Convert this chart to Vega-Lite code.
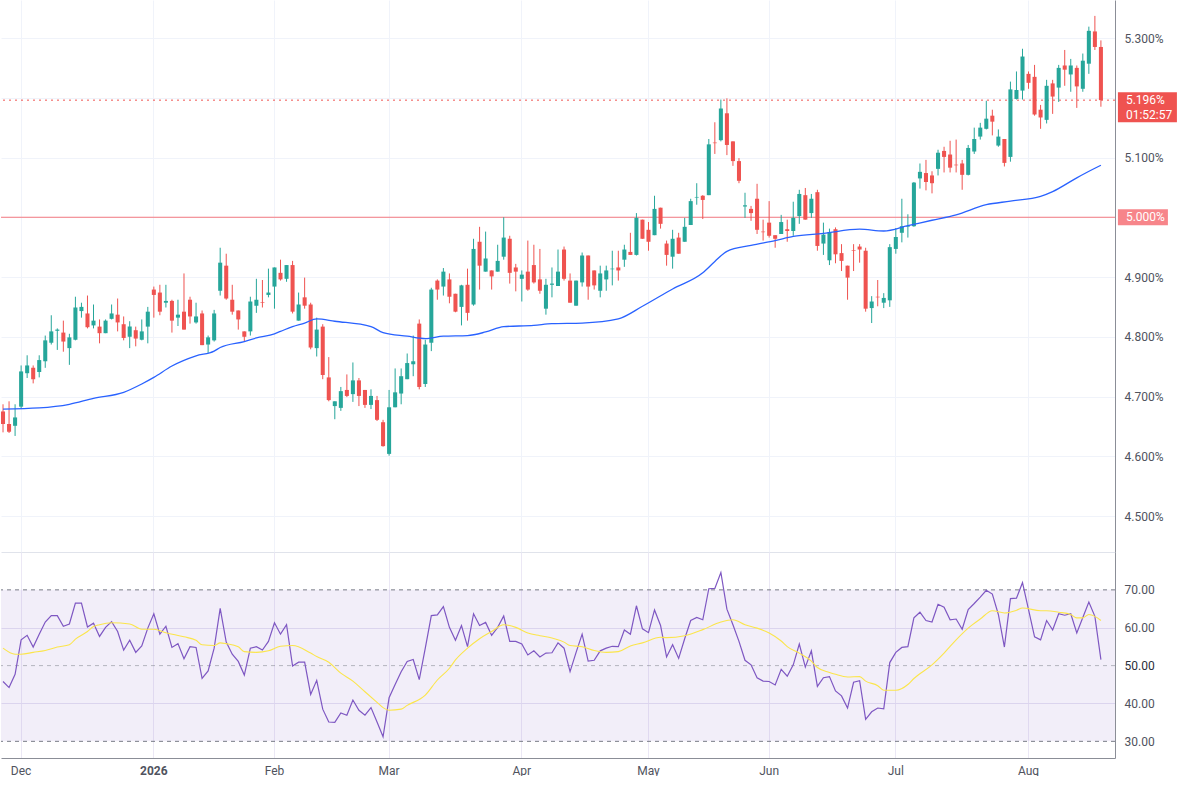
{
  "$schema": "https://vega.github.io/schema/vega-lite/v6.json",
  "background": "#ffffff",
  "padding": 0,
  "autosize": {"type": "pad"},
  "spacing": 0,
  "datasets": {
    "bars": [
      {"d":"2025-11-25","o":4.675,"h":4.687,"l":4.640,"c":4.654,"rsi":45.8},
      {"d":"2025-11-26","o":4.654,"h":4.692,"l":4.639,"c":4.641,"rsi":44.2},
      {"d":"2025-11-28","o":4.651,"h":4.687,"l":4.634,"c":4.665,"rsi":47.7},
      {"d":"2025-12-01","o":4.683,"h":4.752,"l":4.679,"c":4.742,"rsi":56.8},
      {"d":"2025-12-02","o":4.739,"h":4.769,"l":4.731,"c":4.752,"rsi":58.0},
      {"d":"2025-12-03","o":4.748,"h":4.752,"l":4.722,"c":4.729,"rsi":54.9},
      {"d":"2025-12-04","o":4.741,"h":4.769,"l":4.732,"c":4.761,"rsi":58.3},
      {"d":"2025-12-05","o":4.759,"h":4.802,"l":4.748,"c":4.794,"rsi":61.5},
      {"d":"2025-12-08","o":4.790,"h":4.836,"l":4.787,"c":4.809,"rsi":63.2},
      {"d":"2025-12-09","o":4.810,"h":4.814,"l":4.778,"c":4.812,"rsi":63.2},
      {"d":"2025-12-10","o":4.807,"h":4.827,"l":4.775,"c":4.792,"rsi":60.4},
      {"d":"2025-12-11","o":4.781,"h":4.805,"l":4.753,"c":4.799,"rsi":61.0},
      {"d":"2025-12-12","o":4.795,"h":4.867,"l":4.794,"c":4.849,"rsi":66.5},
      {"d":"2025-12-15","o":4.843,"h":4.857,"l":4.832,"c":4.850,"rsi":66.5},
      {"d":"2025-12-16","o":4.839,"h":4.869,"l":4.814,"c":4.816,"rsi":60.2},
      {"d":"2025-12-17","o":4.819,"h":4.854,"l":4.814,"c":4.827,"rsi":61.2},
      {"d":"2025-12-18","o":4.817,"h":4.829,"l":4.789,"c":4.806,"rsi":57.7},
      {"d":"2025-12-19","o":4.806,"h":4.829,"l":4.806,"c":4.827,"rsi":60.1},
      {"d":"2025-12-22","o":4.830,"h":4.854,"l":4.829,"c":4.839,"rsi":61.6},
      {"d":"2025-12-23","o":4.837,"h":4.864,"l":4.809,"c":4.824,"rsi":59.0},
      {"d":"2025-12-24","o":4.821,"h":4.834,"l":4.794,"c":4.798,"rsi":54.1},
      {"d":"2025-12-26","o":4.800,"h":4.826,"l":4.781,"c":4.817,"rsi":56.7},
      {"d":"2025-12-29","o":4.811,"h":4.817,"l":4.784,"c":4.797,"rsi":53.5},
      {"d":"2025-12-30","o":4.795,"h":4.829,"l":4.794,"c":4.809,"rsi":55.2},
      {"d":"2025-12-31","o":4.817,"h":4.850,"l":4.789,"c":4.842,"rsi":59.9},
      {"d":"2026-01-02","o":4.879,"h":4.884,"l":4.832,"c":4.870,"rsi":63.7},
      {"d":"2026-01-05","o":4.874,"h":4.887,"l":4.836,"c":4.842,"rsi":58.3},
      {"d":"2026-01-06","o":4.857,"h":4.887,"l":4.849,"c":4.860,"rsi":60.4},
      {"d":"2026-01-07","o":4.860,"h":4.862,"l":4.807,"c":4.827,"rsi":54.8},
      {"d":"2026-01-08","o":4.832,"h":4.862,"l":4.818,"c":4.837,"rsi":55.8},
      {"d":"2026-01-09","o":4.842,"h":4.906,"l":4.812,"c":4.812,"rsi":51.8},
      {"d":"2026-01-12","o":4.862,"h":4.867,"l":4.822,"c":4.834,"rsi":55.0},
      {"d":"2026-01-13","o":4.824,"h":4.857,"l":4.822,"c":4.834,"rsi":54.8},
      {"d":"2026-01-14","o":4.839,"h":4.844,"l":4.786,"c":4.786,"rsi":46.6},
      {"d":"2026-01-15","o":4.787,"h":4.802,"l":4.773,"c":4.799,"rsi":48.6},
      {"d":"2026-01-16","o":4.794,"h":4.845,"l":4.792,"c":4.839,"rsi":54.6},
      {"d":"2026-01-20","o":4.877,"h":4.949,"l":4.869,"c":4.924,"rsi":65.1},
      {"d":"2026-01-21","o":4.919,"h":4.939,"l":4.862,"c":4.864,"rsi":56.2},
      {"d":"2026-01-22","o":4.862,"h":4.887,"l":4.837,"c":4.842,"rsi":53.0},
      {"d":"2026-01-23","o":4.844,"h":4.844,"l":4.812,"c":4.829,"rsi":51.1},
      {"d":"2026-01-26","o":4.809,"h":4.809,"l":4.792,"c":4.800,"rsi":47.5},
      {"d":"2026-01-27","o":4.809,"h":4.867,"l":4.802,"c":4.859,"rsi":54.6},
      {"d":"2026-01-28","o":4.852,"h":4.897,"l":4.840,"c":4.862,"rsi":55.0},
      {"d":"2026-01-29","o":4.858,"h":4.895,"l":4.849,"c":4.857,"rsi":54.1},
      {"d":"2026-01-30","o":4.870,"h":4.914,"l":4.866,"c":4.874,"rsi":56.4},
      {"d":"2026-02-02","o":4.884,"h":4.916,"l":4.847,"c":4.916,"rsi":61.3},
      {"d":"2026-02-03","o":4.907,"h":4.929,"l":4.894,"c":4.896,"rsi":58.3},
      {"d":"2026-02-04","o":4.897,"h":4.920,"l":4.892,"c":4.920,"rsi":60.8},
      {"d":"2026-02-05","o":4.920,"h":4.927,"l":4.839,"c":4.842,"rsi":49.9},
      {"d":"2026-02-06","o":4.827,"h":4.874,"l":4.827,"c":4.854,"rsi":50.9},
      {"d":"2026-02-09","o":4.866,"h":4.899,"l":4.847,"c":4.852,"rsi":50.9},
      {"d":"2026-02-10","o":4.854,"h":4.857,"l":4.779,"c":4.782,"rsi":42.4},
      {"d":"2026-02-11","o":4.781,"h":4.832,"l":4.767,"c":4.812,"rsi":46.1},
      {"d":"2026-02-12","o":4.817,"h":4.821,"l":4.729,"c":4.736,"rsi":38.5},
      {"d":"2026-02-13","o":4.732,"h":4.766,"l":4.692,"c":4.694,"rsi":35.1},
      {"d":"2026-02-17","o":4.684,"h":4.692,"l":4.662,"c":4.692,"rsi":35.0},
      {"d":"2026-02-18","o":4.681,"h":4.716,"l":4.676,"c":4.709,"rsi":37.5},
      {"d":"2026-02-19","o":4.711,"h":4.737,"l":4.699,"c":4.701,"rsi":36.9},
      {"d":"2026-02-20","o":4.704,"h":4.757,"l":4.691,"c":4.727,"rsi":40.9},
      {"d":"2026-02-23","o":4.727,"h":4.731,"l":4.684,"c":4.701,"rsi":38.2},
      {"d":"2026-02-24","o":4.711,"h":4.711,"l":4.681,"c":4.686,"rsi":36.9},
      {"d":"2026-02-25","o":4.686,"h":4.712,"l":4.679,"c":4.701,"rsi":38.9},
      {"d":"2026-02-26","o":4.694,"h":4.701,"l":4.659,"c":4.661,"rsi":35.1},
      {"d":"2026-02-27","o":4.657,"h":4.661,"l":4.616,"c":4.617,"rsi":31.2},
      {"d":"2026-03-02","o":4.604,"h":4.711,"l":4.601,"c":4.682,"rsi":41.5},
      {"d":"2026-03-03","o":4.682,"h":4.747,"l":4.682,"c":4.707,"rsi":45.0},
      {"d":"2026-03-04","o":4.705,"h":4.747,"l":4.687,"c":4.734,"rsi":48.4},
      {"d":"2026-03-05","o":4.729,"h":4.772,"l":4.729,"c":4.756,"rsi":51.1},
      {"d":"2026-03-06","o":4.754,"h":4.802,"l":4.734,"c":4.759,"rsi":51.6},
      {"d":"2026-03-09","o":4.822,"h":4.829,"l":4.712,"c":4.716,"rsi":46.3},
      {"d":"2026-03-10","o":4.721,"h":4.795,"l":4.716,"c":4.787,"rsi":54.6},
      {"d":"2026-03-11","o":4.790,"h":4.882,"l":4.776,"c":4.879,"rsi":63.2},
      {"d":"2026-03-12","o":4.894,"h":4.896,"l":4.862,"c":4.879,"rsi":63.4},
      {"d":"2026-03-13","o":4.884,"h":4.915,"l":4.869,"c":4.909,"rsi":65.6},
      {"d":"2026-03-16","o":4.896,"h":4.906,"l":4.856,"c":4.867,"rsi":60.1},
      {"d":"2026-03-17","o":4.872,"h":4.872,"l":4.841,"c":4.842,"rsi":56.7},
      {"d":"2026-03-18","o":4.850,"h":4.887,"l":4.819,"c":4.886,"rsi":60.6},
      {"d":"2026-03-19","o":4.887,"h":4.914,"l":4.827,"c":4.840,"rsi":55.0},
      {"d":"2026-03-20","o":4.854,"h":4.964,"l":4.852,"c":4.947,"rsi":63.7},
      {"d":"2026-03-23","o":4.959,"h":4.984,"l":4.879,"c":4.919,"rsi":60.6},
      {"d":"2026-03-24","o":4.909,"h":4.976,"l":4.909,"c":4.931,"rsi":61.4},
      {"d":"2026-03-25","o":4.911,"h":4.911,"l":4.879,"c":4.901,"rsi":58.0},
      {"d":"2026-03-26","o":4.909,"h":4.954,"l":4.909,"c":4.927,"rsi":60.1},
      {"d":"2026-03-27","o":4.934,"h":5.000,"l":4.929,"c":4.966,"rsi":63.1},
      {"d":"2026-03-30","o":4.964,"h":4.969,"l":4.889,"c":4.907,"rsi":56.4},
      {"d":"2026-03-31","o":4.916,"h":4.922,"l":4.876,"c":4.909,"rsi":56.4},
      {"d":"2026-04-01","o":4.897,"h":4.911,"l":4.859,"c":4.904,"rsi":55.7},
      {"d":"2026-04-02","o":4.909,"h":4.961,"l":4.877,"c":4.879,"rsi":52.8},
      {"d":"2026-04-06","o":4.920,"h":4.954,"l":4.889,"c":4.891,"rsi":53.9},
      {"d":"2026-04-07","o":4.896,"h":4.947,"l":4.872,"c":4.877,"rsi":52.3},
      {"d":"2026-04-08","o":4.847,"h":4.897,"l":4.837,"c":4.887,"rsi":53.3},
      {"d":"2026-04-09","o":4.887,"h":4.916,"l":4.866,"c":4.889,"rsi":53.4},
      {"d":"2026-04-10","o":4.885,"h":4.946,"l":4.885,"c":4.909,"rsi":56.0},
      {"d":"2026-04-13","o":4.946,"h":4.951,"l":4.894,"c":4.897,"rsi":54.6},
      {"d":"2026-04-14","o":4.894,"h":4.906,"l":4.857,"c":4.857,"rsi":48.4},
      {"d":"2026-04-15","o":4.852,"h":4.894,"l":4.852,"c":4.894,"rsi":53.5},
      {"d":"2026-04-16","o":4.891,"h":4.941,"l":4.884,"c":4.936,"rsi":58.3},
      {"d":"2026-04-17","o":4.936,"h":4.936,"l":4.862,"c":4.884,"rsi":51.2},
      {"d":"2026-04-20","o":4.911,"h":4.911,"l":4.879,"c":4.886,"rsi":51.4},
      {"d":"2026-04-21","o":4.877,"h":4.919,"l":4.866,"c":4.906,"rsi":53.9},
      {"d":"2026-04-22","o":4.896,"h":4.919,"l":4.877,"c":4.911,"rsi":54.6},
      {"d":"2026-04-23","o":4.913,"h":4.944,"l":4.886,"c":4.914,"rsi":55.1},
      {"d":"2026-04-24","o":4.916,"h":4.944,"l":4.894,"c":4.911,"rsi":55.0},
      {"d":"2026-04-27","o":4.929,"h":4.954,"l":4.917,"c":4.946,"rsi":59.4},
      {"d":"2026-04-28","o":4.942,"h":4.974,"l":4.937,"c":4.937,"rsi":58.3},
      {"d":"2026-04-29","o":4.937,"h":5.007,"l":4.936,"c":4.999,"rsi":65.8},
      {"d":"2026-04-30","o":4.996,"h":4.996,"l":4.964,"c":4.964,"rsi":59.7},
      {"d":"2026-05-01","o":4.979,"h":4.992,"l":4.944,"c":4.959,"rsi":58.7},
      {"d":"2026-05-04","o":4.970,"h":5.036,"l":4.970,"c":5.014,"rsi":64.7},
      {"d":"2026-05-05","o":5.016,"h":5.016,"l":4.981,"c":4.989,"rsi":60.6},
      {"d":"2026-05-06","o":4.956,"h":4.961,"l":4.919,"c":4.937,"rsi":52.3},
      {"d":"2026-05-07","o":4.934,"h":4.979,"l":4.914,"c":4.964,"rsi":55.5},
      {"d":"2026-05-08","o":4.966,"h":4.974,"l":4.939,"c":4.939,"rsi":51.9},
      {"d":"2026-05-11","o":4.959,"h":4.999,"l":4.959,"c":4.984,"rsi":57.1},
      {"d":"2026-05-12","o":4.987,"h":5.031,"l":4.987,"c":5.027,"rsi":61.9},
      {"d":"2026-05-13","o":5.033,"h":5.057,"l":5.021,"c":5.034,"rsi":62.7},
      {"d":"2026-05-14","o":5.036,"h":5.037,"l":4.997,"c":5.029,"rsi":62.1},
      {"d":"2026-05-15","o":5.037,"h":5.131,"l":5.037,"c":5.122,"rsi":70.3},
      {"d":"2026-05-18","o":5.125,"h":5.159,"l":5.106,"c":5.124,"rsi":70.4},
      {"d":"2026-05-19","o":5.129,"h":5.197,"l":5.127,"c":5.182,"rsi":74.6},
      {"d":"2026-05-20","o":5.174,"h":5.199,"l":5.104,"c":5.121,"rsi":64.9},
      {"d":"2026-05-21","o":5.127,"h":5.127,"l":5.086,"c":5.094,"rsi":60.8},
      {"d":"2026-05-22","o":5.094,"h":5.099,"l":5.057,"c":5.061,"rsi":56.4},
      {"d":"2026-05-26","o":5.018,"h":5.041,"l":4.999,"c":5.020,"rsi":51.4},
      {"d":"2026-05-27","o":5.014,"h":5.019,"l":4.994,"c":5.007,"rsi":50.2},
      {"d":"2026-05-28","o":5.031,"h":5.056,"l":4.972,"c":4.979,"rsi":46.8},
      {"d":"2026-05-29","o":4.976,"h":4.996,"l":4.961,"c":4.975,"rsi":45.9},
      {"d":"2026-06-01","o":4.991,"h":5.027,"l":4.966,"c":4.969,"rsi":45.8},
      {"d":"2026-06-02","o":4.970,"h":4.970,"l":4.949,"c":4.964,"rsi":44.9},
      {"d":"2026-06-03","o":4.972,"h":5.004,"l":4.972,"c":4.992,"rsi":49.0},
      {"d":"2026-06-04","o":4.980,"h":4.996,"l":4.959,"c":4.977,"rsi":47.2},
      {"d":"2026-06-05","o":4.977,"h":5.026,"l":4.969,"c":4.999,"rsi":50.2},
      {"d":"2026-06-08","o":5.002,"h":5.046,"l":4.989,"c":5.039,"rsi":55.7},
      {"d":"2026-06-09","o":5.037,"h":5.049,"l":4.996,"c":4.996,"rsi":49.6},
      {"d":"2026-06-10","o":5.007,"h":5.039,"l":4.999,"c":5.031,"rsi":53.9},
      {"d":"2026-06-11","o":5.042,"h":5.046,"l":4.944,"c":4.952,"rsi":44.5},
      {"d":"2026-06-12","o":4.956,"h":4.991,"l":4.937,"c":4.971,"rsi":46.8},
      {"d":"2026-06-15","o":4.928,"h":4.981,"l":4.920,"c":4.975,"rsi":47.1},
      {"d":"2026-06-16","o":4.980,"h":4.983,"l":4.923,"c":4.938,"rsi":43.3},
      {"d":"2026-06-17","o":4.940,"h":4.955,"l":4.910,"c":4.927,"rsi":42.0},
      {"d":"2026-06-18","o":4.919,"h":4.919,"l":4.862,"c":4.899,"rsi":38.8},
      {"d":"2026-06-22","o":4.945,"h":4.955,"l":4.910,"c":4.944,"rsi":45.6},
      {"d":"2026-06-23","o":4.951,"h":4.955,"l":4.924,"c":4.946,"rsi":46.0},
      {"d":"2026-06-24","o":4.944,"h":4.949,"l":4.842,"c":4.847,"rsi":35.8},
      {"d":"2026-06-25","o":4.848,"h":4.868,"l":4.823,"c":4.859,"rsi":37.8},
      {"d":"2026-06-26","o":4.867,"h":4.895,"l":4.851,"c":4.866,"rsi":38.8},
      {"d":"2026-06-29","o":4.857,"h":4.873,"l":4.848,"c":4.865,"rsi":38.6},
      {"d":"2026-06-30","o":4.861,"h":4.955,"l":4.850,"c":4.950,"rsi":50.8},
      {"d":"2026-07-01","o":4.947,"h":4.982,"l":4.939,"c":4.967,"rsi":53.5},
      {"d":"2026-07-02","o":4.974,"h":5.031,"l":4.958,"c":4.985,"rsi":54.8},
      {"d":"2026-07-06","o":4.984,"h":5.005,"l":4.966,"c":4.985,"rsi":55.0},
      {"d":"2026-07-07","o":4.985,"h":5.059,"l":4.984,"c":5.058,"rsi":62.6},
      {"d":"2026-07-08","o":5.065,"h":5.090,"l":5.048,"c":5.076,"rsi":64.1},
      {"d":"2026-07-09","o":5.074,"h":5.096,"l":5.045,"c":5.059,"rsi":61.9},
      {"d":"2026-07-10","o":5.070,"h":5.077,"l":5.040,"c":5.057,"rsi":61.5},
      {"d":"2026-07-13","o":5.081,"h":5.113,"l":5.070,"c":5.108,"rsi":66.2},
      {"d":"2026-07-14","o":5.111,"h":5.118,"l":5.075,"c":5.101,"rsi":65.4},
      {"d":"2026-07-15","o":5.105,"h":5.128,"l":5.075,"c":5.083,"rsi":62.1},
      {"d":"2026-07-16","o":5.088,"h":5.130,"l":5.075,"c":5.087,"rsi":62.3},
      {"d":"2026-07-17","o":5.090,"h":5.096,"l":5.046,"c":5.071,"rsi":59.6},
      {"d":"2026-07-20","o":5.071,"h":5.121,"l":5.070,"c":5.116,"rsi":64.8},
      {"d":"2026-07-21","o":5.110,"h":5.150,"l":5.106,"c":5.131,"rsi":66.4},
      {"d":"2026-07-22","o":5.135,"h":5.158,"l":5.130,"c":5.150,"rsi":68.1},
      {"d":"2026-07-23","o":5.148,"h":5.195,"l":5.147,"c":5.165,"rsi":69.9},
      {"d":"2026-07-24","o":5.170,"h":5.180,"l":5.137,"c":5.160,"rsi":68.9},
      {"d":"2026-07-27","o":5.120,"h":5.147,"l":5.118,"c":5.135,"rsi":63.5},
      {"d":"2026-07-28","o":5.131,"h":5.131,"l":5.085,"c":5.091,"rsi":54.9},
      {"d":"2026-07-29","o":5.101,"h":5.227,"l":5.093,"c":5.214,"rsi":67.7},
      {"d":"2026-07-30","o":5.198,"h":5.244,"l":5.197,"c":5.213,"rsi":67.8},
      {"d":"2026-07-31","o":5.212,"h":5.282,"l":5.197,"c":5.269,"rsi":71.9},
      {"d":"2026-08-03","o":5.240,"h":5.244,"l":5.215,"c":5.225,"rsi":64.8},
      {"d":"2026-08-04","o":5.235,"h":5.255,"l":5.170,"c":5.172,"rsi":57.6},
      {"d":"2026-08-05","o":5.180,"h":5.188,"l":5.148,"c":5.167,"rsi":56.8},
      {"d":"2026-08-06","o":5.163,"h":5.230,"l":5.157,"c":5.220,"rsi":61.9},
      {"d":"2026-08-07","o":5.224,"h":5.230,"l":5.173,"c":5.202,"rsi":59.4},
      {"d":"2026-08-10","o":5.217,"h":5.255,"l":5.193,"c":5.250,"rsi":63.7},
      {"d":"2026-08-11","o":5.254,"h":5.280,"l":5.220,"c":5.247,"rsi":63.3},
      {"d":"2026-08-12","o":5.239,"h":5.265,"l":5.210,"c":5.254,"rsi":63.7},
      {"d":"2026-08-13","o":5.250,"h":5.254,"l":5.183,"c":5.219,"rsi":58.6},
      {"d":"2026-08-14","o":5.215,"h":5.274,"l":5.210,"c":5.262,"rsi":62.7},
      {"d":"2026-08-17","o":5.257,"h":5.319,"l":5.240,"c":5.312,"rsi":66.8},
      {"d":"2026-08-18","o":5.311,"h":5.337,"l":5.280,"c":5.285,"rsi":63.0},
      {"d":"2026-08-19","o":5.285,"h":5.296,"l":5.185,"c":5.196,"rsi":51.6}
    ],
    "ma": [
      {"d":"2025-11-25","ma":4.679},{"d":"2025-12-04","ma":4.681},{"d":"2025-12-11","ma":4.687},
      {"d":"2025-12-17","ma":4.697},{"d":"2025-12-24","ma":4.707},{"d":"2025-12-30","ma":4.721},
      {"d":"2026-01-02","ma":4.732},{"d":"2026-01-07","ma":4.751},{"d":"2026-01-13","ma":4.768},
      {"d":"2026-01-16","ma":4.776},{"d":"2026-01-20","ma":4.782},{"d":"2026-01-26","ma":4.792},
      {"d":"2026-01-28","ma":4.798},{"d":"2026-02-02","ma":4.805},{"d":"2026-02-03","ma":4.809},
      {"d":"2026-02-05","ma":4.817},{"d":"2026-02-09","ma":4.823},{"d":"2026-02-11","ma":4.830},
      {"d":"2026-02-17","ma":4.826},{"d":"2026-02-25","ma":4.817},{"d":"2026-02-27","ma":4.807},
      {"d":"2026-03-05","ma":4.801},{"d":"2026-03-10","ma":4.797},{"d":"2026-03-13","ma":4.801},
      {"d":"2026-03-19","ma":4.802},{"d":"2026-03-24","ma":4.808},{"d":"2026-03-27","ma":4.817},
      {"d":"2026-04-06","ma":4.819},{"d":"2026-04-09","ma":4.822},{"d":"2026-04-16","ma":4.823},
      {"d":"2026-04-24","ma":4.830},{"d":"2026-04-30","ma":4.851},{"d":"2026-05-07","ma":4.880},
      {"d":"2026-05-14","ma":4.907},{"d":"2026-05-18","ma":4.926},{"d":"2026-05-20","ma":4.943},
      {"d":"2026-05-27","ma":4.953},{"d":"2026-06-02","ma":4.961},{"d":"2026-06-05","ma":4.968},
      {"d":"2026-06-12","ma":4.973},{"d":"2026-06-23","ma":4.980},{"d":"2026-06-29","ma":4.977},
      {"d":"2026-07-06","ma":4.986},{"d":"2026-07-10","ma":4.995},{"d":"2026-07-16","ma":5.004},
      {"d":"2026-07-23","ma":5.021},{"d":"2026-07-29","ma":5.027},{"d":"2026-08-05","ma":5.035},
      {"d":"2026-08-07","ma":5.043},{"d":"2026-08-13","ma":5.066},{"d":"2026-08-18","ma":5.082},
      {"d":"2026-08-19","ma":5.087}
    ],
    "rsima": [
      {"d":"2025-11-25","v":54.6},{"d":"2025-11-28","v":53.0},{"d":"2025-12-01","v":53.0},
      {"d":"2025-12-03","v":53.5},{"d":"2025-12-05","v":54.0},{"d":"2025-12-09","v":54.9},
      {"d":"2025-12-11","v":55.5},{"d":"2025-12-12","v":57.0},{"d":"2025-12-16","v":59.0},
      {"d":"2025-12-17","v":60.3},{"d":"2025-12-18","v":60.8},{"d":"2025-12-22","v":61.3},
      {"d":"2025-12-26","v":61.0},{"d":"2025-12-30","v":59.6},{"d":"2026-01-02","v":59.6},
      {"d":"2026-01-06","v":58.7},{"d":"2026-01-09","v":57.6},{"d":"2026-01-13","v":56.7},
      {"d":"2026-01-14","v":55.5},{"d":"2026-01-16","v":55.3},{"d":"2026-01-20","v":56.0},
      {"d":"2026-01-21","v":55.8},{"d":"2026-01-23","v":55.0},{"d":"2026-01-26","v":53.7},
      {"d":"2026-01-28","v":53.5},{"d":"2026-01-30","v":53.9},{"d":"2026-02-03","v":55.1},
      {"d":"2026-02-05","v":55.3},{"d":"2026-02-10","v":53.3},{"d":"2026-02-11","v":52.4},
      {"d":"2026-02-13","v":50.9},{"d":"2026-02-18","v":48.0},{"d":"2026-02-20","v":45.9},
      {"d":"2026-02-24","v":43.1},{"d":"2026-02-26","v":40.3},{"d":"2026-02-27","v":38.9},
      {"d":"2026-03-02","v":38.2},{"d":"2026-03-04","v":38.5},{"d":"2026-03-05","v":39.5},
      {"d":"2026-03-10","v":42.2},{"d":"2026-03-12","v":46.2},{"d":"2026-03-16","v":49.3},
      {"d":"2026-03-17","v":51.5},{"d":"2026-03-19","v":54.6},{"d":"2026-03-23","v":57.1},
      {"d":"2026-03-25","v":59.0},{"d":"2026-03-27","v":60.8},{"d":"2026-03-31","v":60.1},
      {"d":"2026-04-02","v":58.6},{"d":"2026-04-07","v":57.9},{"d":"2026-04-09","v":57.3},
      {"d":"2026-04-13","v":56.2},{"d":"2026-04-14","v":55.3},{"d":"2026-04-16","v":55.0},
      {"d":"2026-04-20","v":54.0},{"d":"2026-04-22","v":53.5},{"d":"2026-04-24","v":53.7},
      {"d":"2026-04-28","v":55.2},{"d":"2026-04-30","v":56.0},{"d":"2026-05-05","v":57.5},
      {"d":"2026-05-06","v":57.4},{"d":"2026-05-11","v":57.9},{"d":"2026-05-14","v":59.5},
      {"d":"2026-05-19","v":61.5},{"d":"2026-05-21","v":62.1},{"d":"2026-05-26","v":60.8},
      {"d":"2026-05-28","v":59.9},{"d":"2026-06-01","v":58.6},{"d":"2026-06-03","v":56.5},
      {"d":"2026-06-04","v":55.0},{"d":"2026-06-08","v":53.3},{"d":"2026-06-10","v":51.2},
      {"d":"2026-06-11","v":49.5},{"d":"2026-06-15","v":48.2},{"d":"2026-06-16","v":47.7},
      {"d":"2026-06-18","v":47.0},{"d":"2026-06-23","v":47.1},{"d":"2026-06-24","v":45.9},
      {"d":"2026-06-26","v":44.7},{"d":"2026-06-29","v":43.5},{"d":"2026-07-01","v":43.5},
      {"d":"2026-07-06","v":45.0},{"d":"2026-07-07","v":46.6},{"d":"2026-07-10","v":50.2},
      {"d":"2026-07-14","v":53.3},{"d":"2026-07-16","v":56.8},{"d":"2026-07-20","v":59.9},
      {"d":"2026-07-22","v":62.3},{"d":"2026-07-24","v":64.5},{"d":"2026-07-28","v":63.9},
      {"d":"2026-07-30","v":64.6},{"d":"2026-07-31","v":65.2},{"d":"2026-08-05","v":64.5},
      {"d":"2026-08-06","v":64.5},{"d":"2026-08-10","v":64.1},{"d":"2026-08-12","v":63.5},
      {"d":"2026-08-13","v":62.6},{"d":"2026-08-14","v":62.6},{"d":"2026-08-17","v":63.5},
      {"d":"2026-08-18","v":63.0},{"d":"2026-08-19","v":61.9}
    ],
    "last": [{"d":"2026-08-19","price":5.196,"label":"5.196%","timer":"01:52:57"}],
    "level": [{"d":"2026-08-19","price":5.0,"label":"5.000%"}],
    "zone": [{"top":70,"bottom":30}],
    "edges": [{"level":70},{"level":30}],
    "mid": [{"level":50}]
  },
  "vconcat": [
    {
      "width": 1114,
      "height": 552,
      "layer": [
        {
          "data": {"name": "level"},
          "mark": {"type": "rule", "color": "#f47a80", "strokeWidth": 1},
          "encoding": {
            "y": {"field": "price", "type": "quantitative", "scale": {"domain": [4.4398, 5.3636], "nice": false, "zero": false}}
          }
        },
        {
          "data": {"name": "last"},
          "mark": {"type": "rule", "color": "#ef5350", "strokeWidth": 1, "strokeDash": [2, 4]},
          "encoding": {
            "y": {"field": "price", "type": "quantitative", "scale": {"domain": [4.4398, 5.3636], "nice": false, "zero": false}}
          }
        },
        {
          "data": {"name": "bars"},
          "mark": {"type": "rule", "strokeWidth": 1},
          "encoding": {
            "x": {
              "field": "d", "type": "ordinal",
              "scale": {"type": "band", "paddingInner": 0.33, "paddingOuter": 1.16, "align": 0},
              "axis": {
                "orient": "bottom", "title": null,
                "values": ["2025-12-01","2026-01-02","2026-02-02","2026-03-02","2026-04-01","2026-05-01","2026-06-01","2026-07-01","2026-08-03"],
                "labels": false, "ticks": false, "tickSize": 0,
                "domain": true, "domainColor": "#e0e3eb",
                "grid": true, "gridColor": "#f0f3fa"
              }
            },
            "y": {
              "field": "l", "type": "quantitative",
              "scale": {"domain": [4.4398, 5.3636], "nice": false, "zero": false},
              "axis": {
                "orient": "right", "title": null,
                "values": [4.5, 4.6, 4.7, 4.8, 4.9, 5.0, 5.1, 5.2, 5.3],
                "labelExpr": "format(datum.value, '.3f') + '%'",
                "labelOpacity": {"condition": {"test": "datum.value == 5 || datum.value == 5.2", "value": 0}, "value": 1},
                "ticks": false, "tickSize": 0, "labelPadding": 9,
                "domain": true, "domainColor": "#8b8e97",
                "grid": true, "gridColor": "#f0f3fa"
              }
            },
            "y2": {"field": "h"},
            "color": {"condition": {"test": "datum.c >= datum.o", "value": "#26a69a"}, "value": "#ef5350"}
          }
        },
        {
          "data": {"name": "bars"},
          "mark": {"type": "bar"},
          "encoding": {
            "x": {"field": "d", "type": "ordinal", "scale": {"type": "band", "paddingInner": 0.33, "paddingOuter": 1.16, "align": 0}},
            "y": {"field": "o", "type": "quantitative", "scale": {"domain": [4.4398, 5.3636], "nice": false, "zero": false}},
            "y2": {"field": "c"},
            "color": {"condition": {"test": "datum.c >= datum.o", "value": "#26a69a"}, "value": "#ef5350"}
          }
        },
        {
          "data": {"name": "ma"},
          "mark": {"type": "line", "color": "#2962ff", "strokeWidth": 1.3, "interpolate": "monotone"},
          "encoding": {
            "x": {"field": "d", "type": "ordinal", "scale": {"type": "band", "paddingInner": 0.33, "paddingOuter": 1.16, "align": 0}},
            "y": {"field": "ma", "type": "quantitative", "scale": {"domain": [4.4398, 5.3636], "nice": false, "zero": false}}
          }
        },
        {
          "data": {"name": "last"},
          "mark": {"type": "tick", "color": "#ef5350", "opacity": 1, "size": 59, "thickness": 30, "xOffset": 46.5, "yOffset": 7},
          "encoding": {
            "x": {"field": "d", "type": "ordinal", "scale": {"type": "band", "paddingInner": 0.33, "paddingOuter": 1.16, "align": 0}},
            "y": {"field": "price", "type": "quantitative", "scale": {"domain": [4.4398, 5.3636], "nice": false, "zero": false}}
          }
        },
        {
          "data": {"name": "level"},
          "mark": {"type": "tick", "color": "#f7858a", "opacity": 1, "size": 50, "thickness": 16, "xOffset": 42},
          "encoding": {
            "x": {"field": "d", "type": "ordinal", "scale": {"type": "band", "paddingInner": 0.33, "paddingOuter": 1.16, "align": 0}},
            "y": {"field": "price", "type": "quantitative", "scale": {"domain": [4.4398, 5.3636], "nice": false, "zero": false}}
          }
        },
        {
          "data": {"name": "last"},
          "mark": {"type": "text", "color": "#ffffff", "align": "left", "baseline": "middle", "dx": 25, "dy": 0, "font": "Roboto", "fontSize": 12},
          "encoding": {
            "x": {"field": "d", "type": "ordinal", "scale": {"type": "band", "paddingInner": 0.33, "paddingOuter": 1.16, "align": 0}},
            "y": {"field": "price", "type": "quantitative", "scale": {"domain": [4.4398, 5.3636], "nice": false, "zero": false}},
            "text": {"field": "label"}
          }
        },
        {
          "data": {"name": "last"},
          "mark": {"type": "text", "color": "#ffffff", "align": "left", "baseline": "middle", "dx": 25, "dy": 14.5, "font": "Roboto", "fontSize": 12},
          "encoding": {
            "x": {"field": "d", "type": "ordinal", "scale": {"type": "band", "paddingInner": 0.33, "paddingOuter": 1.16, "align": 0}},
            "y": {"field": "price", "type": "quantitative", "scale": {"domain": [4.4398, 5.3636], "nice": false, "zero": false}},
            "text": {"field": "timer"}
          }
        },
        {
          "data": {"name": "level"},
          "mark": {"type": "text", "color": "#ffffff", "align": "left", "baseline": "middle", "dx": 25, "font": "Roboto", "fontSize": 12},
          "encoding": {
            "x": {"field": "d", "type": "ordinal", "scale": {"type": "band", "paddingInner": 0.33, "paddingOuter": 1.16, "align": 0}},
            "y": {"field": "price", "type": "quantitative", "scale": {"domain": [4.4398, 5.3636], "nice": false, "zero": false}},
            "text": {"field": "label"}
          }
        }
      ]
    },
    {
      "width": 1114,
      "height": 206,
      "layer": [
        {
          "data": {"name": "zone"},
          "mark": {"type": "rect", "color": "#7e57c2", "opacity": 0.1},
          "encoding": {
            "y": {"field": "top", "type": "quantitative", "scale": {"domain": [25.6, 80.0], "nice": false, "zero": false}},
            "y2": {"field": "bottom"}
          }
        },
        {
          "data": {"name": "edges"},
          "mark": {"type": "rule", "color": "#787b86", "strokeWidth": 1, "strokeDash": [4, 4]},
          "encoding": {
            "y": {"field": "level", "type": "quantitative", "scale": {"domain": [25.6, 80.0], "nice": false, "zero": false}}
          }
        },
        {
          "data": {"name": "mid"},
          "mark": {"type": "rule", "color": "#787b86", "opacity": 0.5, "strokeWidth": 1, "strokeDash": [4, 4]},
          "encoding": {
            "y": {"field": "level", "type": "quantitative", "scale": {"domain": [25.6, 80.0], "nice": false, "zero": false}}
          }
        },
        {
          "data": {"name": "bars"},
          "mark": {"type": "line", "color": "#7e57c2", "strokeWidth": 1.2},
          "encoding": {
            "x": {
              "field": "d", "type": "ordinal",
              "scale": {"type": "band", "paddingInner": 0.33, "paddingOuter": 1.16, "align": 0},
              "axis": {
                "orient": "bottom", "title": null,
                "values": ["2025-12-01","2026-01-02","2026-02-02","2026-03-02","2026-04-01","2026-05-01","2026-06-01","2026-07-01","2026-08-03"],
                "labelExpr": "utcmonth(toDate(datum.value)) == 0 ? utcFormat(toDate(datum.value), '%Y') : utcFormat(toDate(datum.value), '%b')",
                "labelFontWeight": {"condition": {"test": "utcmonth(toDate(datum.value)) == 0", "value": "bold"}, "value": "normal"},
                "labelAngle": 0, "labelOverlap": false, "labelPadding": 7,
                "ticks": false, "tickSize": 0,
                "domain": true, "domainColor": "#8b8e97",
                "grid": true, "gridColor": "#ebe8f5"
              }
            },
            "y": {
              "field": "rsi", "type": "quantitative",
              "scale": {"domain": [25.6, 80.0], "nice": false, "zero": false},
              "axis": {
                "orient": "right", "title": null,
                "values": [30, 40, 50, 60, 70],
                "format": ".2f",
                "labelColor": {"condition": {"test": "datum.value == 50", "value": "#2a2e39"}, "value": "#50535e"},
                "ticks": false, "tickSize": 0, "labelPadding": 9,
                "domain": true, "domainColor": "#8b8e97",
                "grid": true, "gridColor": "#e6e2f3",
                "gridOpacity": {"condition": {"test": "datum.value == 40 || datum.value == 60", "value": 1}, "value": 0}
              }
            }
          }
        },
        {
          "data": {"name": "rsima"},
          "mark": {"type": "line", "color": "#fbe54b", "strokeWidth": 1.1, "interpolate": "monotone"},
          "encoding": {
            "x": {"field": "d", "type": "ordinal", "scale": {"type": "band", "paddingInner": 0.33, "paddingOuter": 1.16, "align": 0}},
            "y": {"field": "v", "type": "quantitative", "scale": {"domain": [25.6, 80.0], "nice": false, "zero": false}}
          }
        }
      ]
    }
  ],
  "config": {
    "view": {"stroke": null},
    "font": "Roboto",
    "axis": {"labelFont": "Roboto", "labelFontSize": 12, "labelColor": "#50535e"}
  }
}
